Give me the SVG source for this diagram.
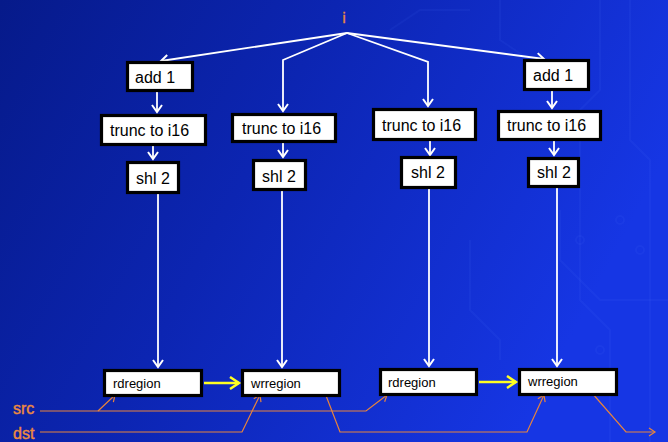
<svg xmlns="http://www.w3.org/2000/svg" width="668" height="442" viewBox="0 0 668 442">
  <defs>
    <linearGradient id="bg" x1="0" y1="0" x2="1" y2="0.35">
      <stop offset="0" stop-color="#061a8a"/>
      <stop offset="0.45" stop-color="#0c25b2"/>
      <stop offset="1" stop-color="#1636e4"/>
    </linearGradient>
    <marker id="ahW" markerUnits="userSpaceOnUse" markerWidth="14" markerHeight="14" refX="8" refY="6" orient="auto">
      <path d="M1,1 L8,6 L1,11" fill="none" stroke="#ffffff" stroke-width="2"/>
    </marker>
    <marker id="ahY" markerUnits="userSpaceOnUse" markerWidth="16" markerHeight="16" refX="10" refY="7" orient="auto">
      <path d="M1,1 L10,7 L1,13" fill="none" stroke="#ffff22" stroke-width="2.5"/>
    </marker>
    <marker id="ahO" markerUnits="userSpaceOnUse" markerWidth="12" markerHeight="12" refX="7" refY="5" orient="auto">
      <path d="M1,1 L7,5 L1,9" fill="none" stroke="#e8843c" stroke-width="1.2"/>
    </marker>
  </defs>
  <style>
    .box rect { fill: #ffffff; stroke: #000000; stroke-width: 3.2; }
    .box text { font-family: "Liberation Sans", Arial, sans-serif; font-size: 16px; fill: #000000; }
    .reg text { font-size: 13px; }
    .w { fill: none; stroke: #ffffff; stroke-width: 1.8; marker-end: url(#ahW); }
    .y { fill: none; stroke: #ffff22; stroke-width: 2.6; marker-end: url(#ahY); }
    .o { fill: none; stroke: #e8843c; stroke-width: 1.2; }
    .oa { marker-end: url(#ahO); }
    .lbl { font-family: "Liberation Sans", Arial, sans-serif; fill: #ee8a40; stroke: #ee8a40; stroke-width: 0.4; }
    .trace { fill: none; stroke: #5a7cff; stroke-opacity: 0.08; stroke-width: 2; }
  </style>

  <!-- background with faint circuit traces -->
  <rect x="0" y="0" width="668" height="442" fill="url(#bg)"/>
  <g id="texture">
    <path class="trace" d="M600,0 V90 L580,110 V300 L610,330 V442"/>
    <path class="trace" d="M630,0 V140 L650,160 V442"/>
    <path class="trace" d="M560,210 V260 L600,300 H668"/>
    <path class="trace" d="M500,0 V40 L530,60"/>
    <path class="trace" d="M390,30 L420,10 H470"/>
    <path class="trace" d="M470,240 V310 L500,340 V360"/>
    <circle class="trace" cx="620" cy="220" r="4"/>
    <circle class="trace" cx="640" cy="250" r="4"/>
    <circle class="trace" cx="600" cy="350" r="4"/>
    <circle class="trace" cx="580" cy="240" r="4"/>
  </g>

  <!-- labels -->
  <text class="lbl" x="344" y="23" font-size="14" text-anchor="middle">i</text>
  <text class="lbl" x="13" y="414" font-size="16">src</text>
  <text class="lbl" x="13" y="439" font-size="16">dst</text>

  <!-- connectors -->
  <g id="connectors">
    <path class="w" d="M347,33 L161,61"/>
    <path class="w" d="M347,33 L283,60 V111"/>
    <path class="w" d="M347,33 L428,62 V106"/>
    <path class="w" d="M347,33 L544,59"/>

    <path class="w" d="M157,92 V112"/>
    <path class="w" d="M153,146 V159"/>
    <path class="w" d="M158,194 V367"/>

    <path class="w" d="M283,143 V157"/>
    <path class="w" d="M282,191 V367"/>

    <path class="w" d="M430,141 V155"/>
    <path class="w" d="M429,189 V366"/>

    <path class="w" d="M552,91 V108"/>
    <path class="w" d="M554,141 V155"/>
    <path class="w" d="M557,188 V366"/>

    <path class="y" d="M204,383 H239"/>
    <path class="y" d="M479,382 H516"/>

    <path class="o oa" d="M40,411 H366 L387,395"/>
    <path class="o oa" d="M98,411 L115,395"/>
    <path class="o oa" d="M40,432 H242 L260,395"/>
    <path class="o oa" d="M325,393 L340,432 H527 L544,395"/>
    <path class="o oa" d="M592,393 L626,432 H655"/>
  </g>

  <!-- nodes -->
  <g id="add1a" class="box"><rect x="127.5" y="62.5" width="65" height="28"/><text x="135" y="83">add 1</text></g>
  <g id="trunc1" class="box"><rect x="101.5" y="115.5" width="104" height="29"/><text x="110" y="136">trunc to i16</text></g>
  <g id="shl1" class="box"><rect x="127.5" y="162.5" width="51" height="30"/><text x="136" y="184">shl 2</text></g>

  <g id="trunc2" class="box"><rect x="232.5" y="114.5" width="103" height="27"/><text x="242" y="134">trunc to i16</text></g>
  <g id="shl2" class="box"><rect x="253.5" y="160.5" width="52" height="29"/><text x="262" y="182">shl 2</text></g>

  <g id="trunc3" class="box"><rect x="373.5" y="109.5" width="102" height="30"/><text x="382" y="131">trunc to i16</text></g>
  <g id="shl3" class="box"><rect x="401.5" y="157.5" width="54" height="30"/><text x="411" y="178">shl 2</text></g>

  <g id="add1b" class="box"><rect x="524.5" y="60.5" width="64" height="29"/><text x="533" y="81">add 1</text></g>
  <g id="trunc4" class="box"><rect x="498.5" y="111.5" width="102" height="28"/><text x="507" y="131">trunc to i16</text></g>
  <g id="shl4" class="box"><rect x="528.5" y="158.5" width="50" height="28"/><text x="537" y="178">shl 2</text></g>

  <g id="rdregion1" class="box reg"><rect x="104.5" y="370.5" width="97" height="25"/><text x="113" y="388">rdregion</text></g>
  <g id="wrregion1" class="box reg"><rect x="242.5" y="370.5" width="97" height="25"/><text x="251" y="388">wrregion</text></g>
  <g id="rdregion2" class="box reg"><rect x="380.5" y="369.5" width="96" height="25"/><text x="388" y="387">rdregion</text></g>
  <g id="wrregion2" class="box reg"><rect x="519.5" y="369.5" width="97" height="25"/><text x="528" y="386">wrregion</text></g>
</svg>
